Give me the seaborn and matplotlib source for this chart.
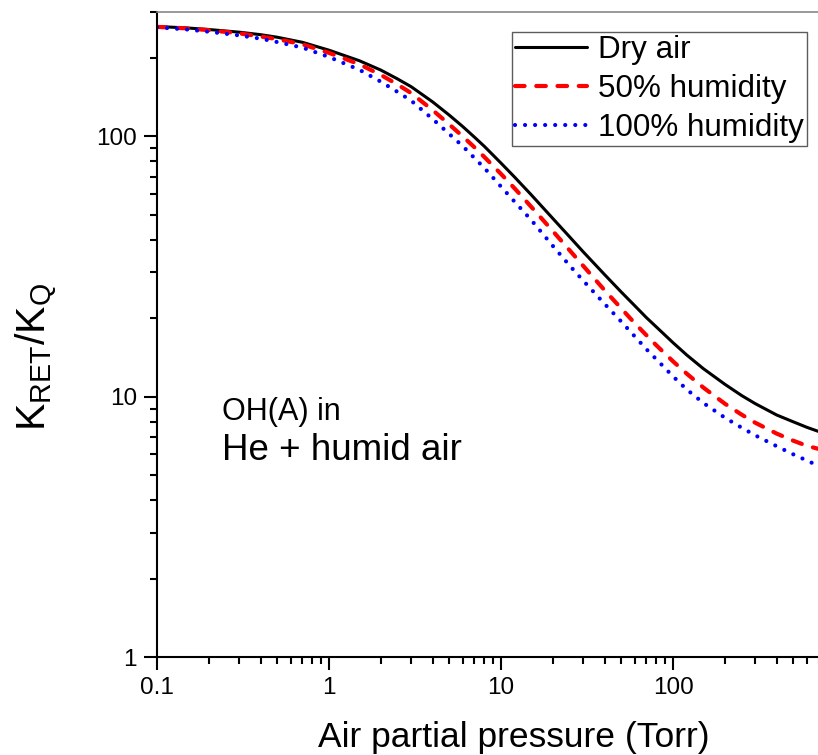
import matplotlib
matplotlib.use("Agg")
import matplotlib.pyplot as plt
import seaborn as sns
import pandas as pd
from matplotlib.ticker import FixedLocator, FixedFormatter, LogLocator, NullFormatter

# ---- data ----
pressure_torr = [0.1, 0.15, 0.2, 0.3, 0.4, 0.5, 0.7, 1, 1.5, 2, 2.5, 3, 4, 5, 6,
                 7, 8, 10, 12, 15, 20, 25, 30, 40, 50, 60, 70, 80, 100, 120,
                 150, 200, 250, 300, 400, 500, 600, 700]
dry_air = [264, 260.5, 257, 251, 245.5, 240, 229.5, 214, 195, 179.5, 166, 155,
           135.5, 120.5, 108.8, 99.2, 91.4, 78.8, 69.6, 59.5, 48.3, 41.1, 36.0,
           29.4, 25.2, 22.3, 20.1, 18.5, 16.1, 14.45, 12.8, 11.15, 10.1, 9.4,
           8.5, 8.0, 7.62, 7.35]
humidity_50 = [263, 259.5, 255.5, 248.5, 241.5, 236, 225.5, 209, 189, 172, 158,
               146.5, 126, 111, 99.7, 90.7, 83.2, 71.6, 63.0, 53.5, 43.2, 36.5,
               31.8, 25.6, 21.8, 19.1, 17.2, 15.73, 13.65, 12.25, 10.83, 9.39,
               8.53, 7.94, 7.21, 6.77, 6.47, 6.3]
humidity_100 = [262, 257, 252, 244, 237, 230, 219, 201.5, 180, 162, 148, 137,
                116.5, 102, 91.5, 82.5, 75.5, 64, 56, 47.6, 37.9, 31.9, 27.9,
                22.7, 19.4, 17.0, 15.2, 13.9, 11.95, 10.65, 9.45, 8.3, 7.6, 7.1,
                6.45, 6.0, 5.68, 5.42]
series_labels = ["Dry air", "50% humidity", "100% humidity"]
x_ticks = [0.1, 1, 10, 100]
x_ticklabels = ["0.1", "1", "10", "100"]
y_ticks = [1, 10, 100]
y_ticklabels = ["1", "10", "100"]

sns.set_style("ticks")
plt.rcParams["font.family"] = ["Liberation Sans", "DejaVu Sans"]
plt.rcParams["mathtext.fontset"] = "custom"
plt.rcParams["mathtext.rm"] = "Liberation Sans"
plt.rcParams["mathtext.it"] = "Liberation Sans:italic"
for key in ["text.color", "axes.labelcolor", "xtick.color", "ytick.color"]:
    plt.rcParams[key] = "black"

fig = plt.figure(figsize=(8.18, 7.55), dpi=100)
ax = fig.add_axes([157 / 818, 1 - 657 / 755, (818.5 - 157) / 818, (657 - 12) / 755])

n = len(pressure_torr)
df = pd.DataFrame({"p": pressure_torr * 3,
                   "k": dry_air + humidity_50 + humidity_100,
                   "series": [series_labels[0]] * n + [series_labels[1]] * n
                   + [series_labels[2]] * n})

styles = {
    series_labels[0]: dict(color="black", lw=2.2, linestyle="-"),
    series_labels[1]: dict(color="#ff0000", lw=3.0, linestyle=(0, (2.3, 2.8)),
                           dash_capstyle="round"),
    series_labels[2]: dict(color="#0000ff", lw=3.0, linestyle=(0, (0.01, 2.4)),
                           dash_capstyle="round"),
}
for name in series_labels:
    sub = df[df["series"] == name]
    sns.lineplot(data=sub, x="p", y="k", ax=ax, label=name, **styles[name])

ax.set_xscale("log")
ax.set_yscale("log")
ax.set_xlim(0.1, 700)
ax.set_ylim(1, 300)

ax.xaxis.set_major_locator(FixedLocator(x_ticks))
ax.xaxis.set_major_formatter(FixedFormatter(x_ticklabels))
ax.yaxis.set_major_locator(FixedLocator(y_ticks))
ax.yaxis.set_major_formatter(FixedFormatter(y_ticklabels))
ax.xaxis.set_minor_locator(LogLocator(base=10, subs=range(2, 10)))
ax.yaxis.set_minor_locator(LogLocator(base=10, subs=range(2, 10)))
ax.xaxis.set_minor_formatter(NullFormatter())
ax.yaxis.set_minor_formatter(NullFormatter())

ax.tick_params(which="major", direction="out", length=9.4, width=1.5,
               labelsize=17.5, pad=5, color="black", labelcolor="black")
ax.tick_params(which="minor", direction="out", length=5, width=1.5, color="black")
ax.tick_params(top=False, right=False, which="both")

for s in ["left", "bottom"]:
    ax.spines[s].set_linewidth(1.5)
    ax.spines[s].set_color("black")
ax.spines["top"].set_color("#888888")
ax.spines["top"].set_linewidth(1.2)
ax.spines["right"].set_visible(False)

ax.set_xlabel("Air partial pressure (Torr)", fontsize=25.5, color="black")
ax.set_ylabel(r"$\mathregular{K_{RET}/K_{Q}}$", fontsize=29.5, color="black")
ax.xaxis.set_label_coords(0.54, -0.1)
ax.yaxis.set_label_coords(-0.15, 0.465)

ax.text(0.098, 0.3674, "OH(A) in", transform=ax.transAxes, fontsize=22,
        va="baseline", ha="left", color="black")
ax.text(0.098, 0.3054, "He + humid air", transform=ax.transAxes, fontsize=26.5,
        va="baseline", ha="left", color="black")

leg = ax.legend(loc="upper right", bbox_to_anchor=(807 / 818, 1 - 32 / 755),
                bbox_transform=fig.transFigure, borderaxespad=0, fontsize=22.6,
                frameon=True, fancybox=False, handlelength=2.3,
                handletextpad=0.35, labelspacing=0.28, borderpad=0.1)
leg.get_frame().set_edgecolor("#333333")
leg.get_frame().set_linewidth(1.0)
for t in leg.get_texts():
    t.set_color("black")

fig.savefig("out.png", dpi=100)
